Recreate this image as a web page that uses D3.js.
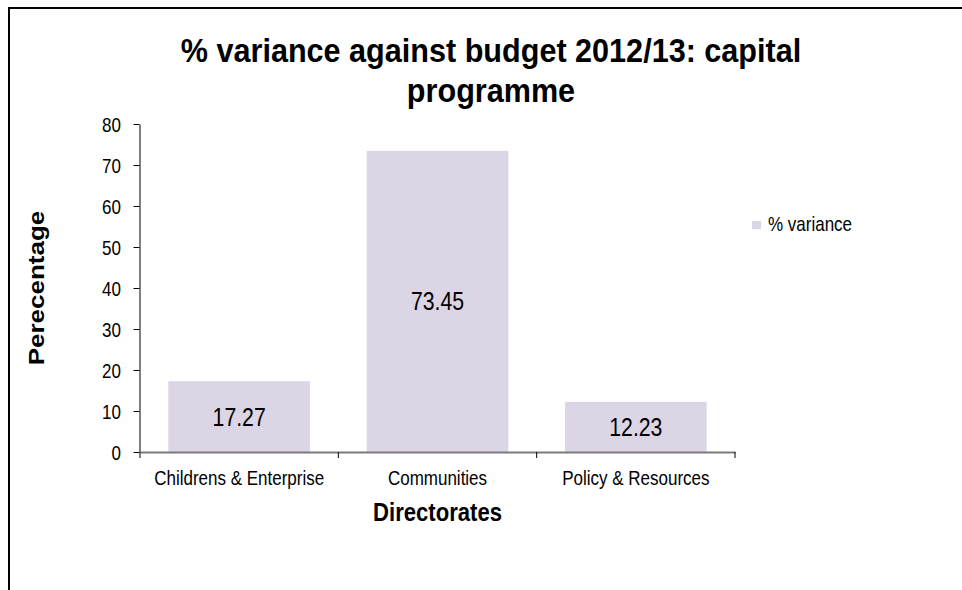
<!DOCTYPE html>
<html>
<head>
<meta charset="utf-8">
<script src="https://cdn.jsdelivr.net/npm/d3@7/dist/d3.min.js"></script>
<style>
  html, body { margin: 0; padding: 0; background: #fff; }
  svg { display: block; }
  text { font-family: "Liberation Sans", Arial, Helvetica, sans-serif; fill: #000; }
</style>
</head>
<body>
<svg id="chart" width="962" height="590"></svg>
<script>
// Capital programme variance by directorate, 2012/13
const categories = ["Childrens & Enterprise", "Communities", "Policy & Resources"];
const varianceValues = [17.27, 73.45, 12.23];
const yTicks = [0, 10, 20, 30, 40, 50, 60, 70, 80];
const titleLines = ["% variance against budget 2012/13: capital", "programme"];
const seriesName = "% variance";
const xTitle = "Directorates";
const yTitle = "Perecentage";

const svg = d3.select("#chart");
const SX = 0.85;               // horizontal text compression used throughout
const barColor = "#dbd5e6";

// chart frame
svg.append("rect")
  .attr("x", 9).attr("y", 8)
  .attr("width", 1000).attr("height", 1000)
  .attr("fill", "#fff").attr("stroke", "#000").attr("stroke-width", 2);

// helper for compressed text
function label(g, x, y, str, size, opts = {}) {
  return g.append("text")
    .attr("transform", `translate(${x},${y}) scale(${opts.sx || SX},1)`)
    .attr("text-anchor", opts.anchor || "middle")
    .attr("font-size", size)
    .attr("font-weight", opts.bold ? "bold" : "normal")
    .text(str);
}

// title, wrapped over two lines
titleLines.forEach((t, i) => label(svg, 491, 62 + i * 40, t, 34, { bold: true, sx: 0.9 }));

// scales
const x = d3.scaleBand()
  .domain(categories)
  .range([140, 735])
  .paddingInner(0.4 / 1.4)
  .paddingOuter(0.2 / 1.4);

const y = d3.scaleLinear()
  .domain([0, 80])
  .range([452, 124]);

// bars
svg.append("g").selectAll("rect")
  .data(categories.map((c, i) => ({ c, v: varianceValues[i] })))
  .join("rect")
  .attr("x", d => x(d.c))
  .attr("y", d => y(d.v))
  .attr("width", x.bandwidth())
  .attr("height", d => y(0) - y(d.v))
  .attr("fill", barColor);

// data labels, centred in each bar
const dl = svg.append("g");
categories.forEach((c, i) => {
  const v = varianceValues[i];
  label(dl, x(c) + x.bandwidth() / 2, (y(v) + y(0)) / 2 + 9, v.toFixed(2), 25)
    .attr("fill", "#111");
});

// y axis
const yAxis = svg.append("g")
  .attr("transform", "translate(139.5,0)")
  .call(d3.axisLeft(y).tickValues(yTicks).tickSize(6).tickSizeOuter(0));
yAxis.select(".domain").attr("stroke", "#000");
yAxis.selectAll(".tick line").attr("stroke", "#000");
yAxis.selectAll(".tick text")
  .attr("x", 0).attr("dy", "0.35em")
  .attr("transform", `translate(-18.5,0) scale(${SX},1)`)
  .attr("font-size", 20)
  .attr("font-family", null)
  .attr("fill", "#000");

// x axis: labels at category centres, tick marks between categories
const xAxis = svg.append("g")
  .attr("transform", "translate(0,452)")
  .call(d3.axisBottom(x).tickSize(0).tickSizeOuter(0));
xAxis.select(".domain").attr("stroke", "#7a7a7a").attr("stroke-width", 2);
xAxis.selectAll(".tick text")
  .attr("y", 33).attr("dy", 0)
  .attr("transform", `scale(${SX},1)`)
  .attr("font-size", 20)
  .attr("font-family", null)
  .attr("fill", "#000");

const boundaries = d3.range(categories.length + 1).map(i => x.range()[0] + i * x.step());
svg.append("g").selectAll("line")
  .data(boundaries)
  .join("line")
  .attr("x1", d => d).attr("x2", d => d)
  .attr("y1", 452).attr("y2", 458)
  .attr("stroke", "#000").attr("stroke-width", 1);

// axis titles
label(svg, (x.range()[0] + x.range()[1]) / 2, 521, xTitle, 26, { bold: true });
svg.append("text")
  .attr("transform", `translate(44,${(y(0) + y(80)) / 2}) rotate(-90) scale(1,${SX})`)
  .attr("text-anchor", "middle")
  .attr("font-size", 26)
  .attr("font-weight", "bold")
  .text(yTitle);

// legend
const lg = svg.append("g");
lg.append("rect").attr("x", 752).attr("y", 221).attr("width", 9).attr("height", 8).attr("fill", barColor);
label(lg, 768, 231, seriesName, 20, { anchor: "start" });
</script>
</body>
</html>
